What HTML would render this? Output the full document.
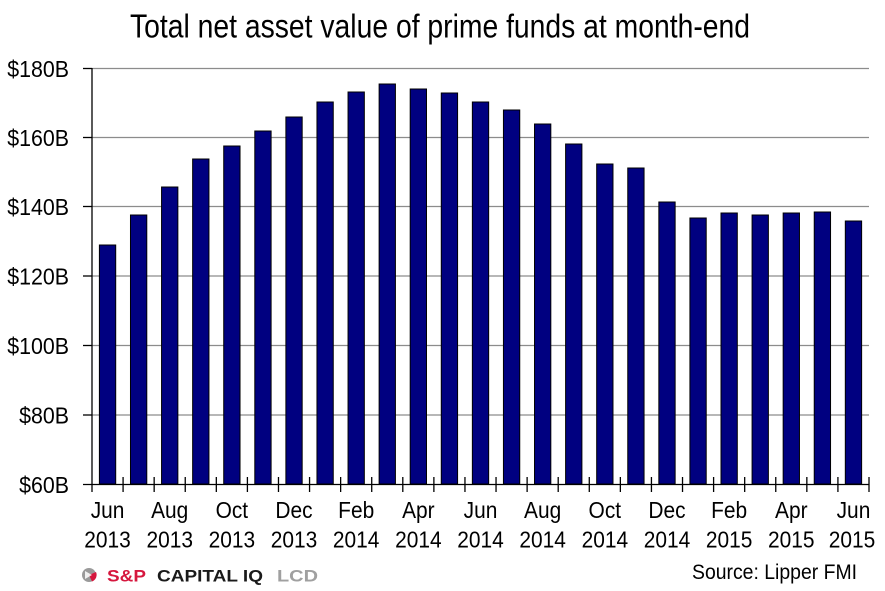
<!DOCTYPE html>
<html><head><meta charset="utf-8"><style>
html,body{margin:0;padding:0;background:#fff;}
svg{display:block;}
text{font-family:"Liberation Sans",Arial,sans-serif;}
</style></head><body>
<svg width="885" height="591" viewBox="0 0 885 591" xmlns="http://www.w3.org/2000/svg">
<rect width="885" height="591" fill="#fff"/>
<text x="130" y="37.5" font-size="33" textLength="620" lengthAdjust="spacingAndGlyphs" fill="#000">Total net asset value of prime funds at month-end</text>
<g stroke="#8c8c8c" stroke-width="1.2">
<line x1="92" y1="68.5" x2="869" y2="68.5"/>
<line x1="92" y1="137.5" x2="869" y2="137.5"/>
<line x1="92" y1="206.5" x2="869" y2="206.5"/>
<line x1="92" y1="276" x2="869" y2="276"/>
<line x1="92" y1="345.5" x2="869" y2="345.5"/>
<line x1="92" y1="415" x2="869" y2="415"/>
</g>
<g fill="#000080" stroke="#000" stroke-width="1">
<rect x="99.4" y="245" width="16.3" height="239"/>
<rect x="130.48" y="215" width="16.3" height="269"/>
<rect x="161.56" y="187" width="16.3" height="297"/>
<rect x="192.64" y="159" width="16.3" height="325"/>
<rect x="223.72" y="146" width="16.3" height="338"/>
<rect x="254.8" y="131" width="16.3" height="353"/>
<rect x="285.88" y="117" width="16.3" height="367"/>
<rect x="316.96" y="102" width="16.3" height="382"/>
<rect x="348.04" y="92" width="16.3" height="392"/>
<rect x="379.12" y="84" width="16.3" height="400"/>
<rect x="410.2" y="89" width="16.3" height="395"/>
<rect x="441.28" y="93" width="16.3" height="391"/>
<rect x="472.36" y="102" width="16.3" height="382"/>
<rect x="503.44" y="110" width="16.3" height="374"/>
<rect x="534.52" y="124" width="16.3" height="360"/>
<rect x="565.6" y="144" width="16.3" height="340"/>
<rect x="596.68" y="164" width="16.3" height="320"/>
<rect x="627.76" y="168" width="16.3" height="316"/>
<rect x="658.84" y="202" width="16.3" height="282"/>
<rect x="689.92" y="218" width="16.3" height="266"/>
<rect x="721.0" y="213" width="16.3" height="271"/>
<rect x="752.08" y="215" width="16.3" height="269"/>
<rect x="783.16" y="213" width="16.3" height="271"/>
<rect x="814.24" y="212" width="16.3" height="272"/>
<rect x="845.32" y="221" width="16.3" height="263"/>
</g>
<g stroke="#000" stroke-width="1.3">
<line x1="92" y1="68" x2="92" y2="492"/>
<line x1="83" y1="484.5" x2="869" y2="484.5"/>
<line x1="83" y1="68.5" x2="92" y2="68.5"/>
<line x1="83" y1="137.5" x2="92" y2="137.5"/>
<line x1="83" y1="206.5" x2="92" y2="206.5"/>
<line x1="83" y1="276" x2="92" y2="276"/>
<line x1="83" y1="345.5" x2="92" y2="345.5"/>
<line x1="83" y1="415" x2="92" y2="415"/>
<line x1="123.08" y1="477" x2="123.08" y2="492"/>
<line x1="154.16" y1="477" x2="154.16" y2="492"/>
<line x1="185.24" y1="477" x2="185.24" y2="492"/>
<line x1="216.32" y1="477" x2="216.32" y2="492"/>
<line x1="247.4" y1="477" x2="247.4" y2="492"/>
<line x1="278.48" y1="477" x2="278.48" y2="492"/>
<line x1="309.56" y1="477" x2="309.56" y2="492"/>
<line x1="340.64" y1="477" x2="340.64" y2="492"/>
<line x1="371.72" y1="477" x2="371.72" y2="492"/>
<line x1="402.8" y1="477" x2="402.8" y2="492"/>
<line x1="433.88" y1="477" x2="433.88" y2="492"/>
<line x1="464.96" y1="477" x2="464.96" y2="492"/>
<line x1="496.04" y1="477" x2="496.04" y2="492"/>
<line x1="527.12" y1="477" x2="527.12" y2="492"/>
<line x1="558.2" y1="477" x2="558.2" y2="492"/>
<line x1="589.28" y1="477" x2="589.28" y2="492"/>
<line x1="620.36" y1="477" x2="620.36" y2="492"/>
<line x1="651.44" y1="477" x2="651.44" y2="492"/>
<line x1="682.52" y1="477" x2="682.52" y2="492"/>
<line x1="713.6" y1="477" x2="713.6" y2="492"/>
<line x1="744.68" y1="477" x2="744.68" y2="492"/>
<line x1="775.76" y1="477" x2="775.76" y2="492"/>
<line x1="806.84" y1="477" x2="806.84" y2="492"/>
<line x1="837.92" y1="477" x2="837.92" y2="492"/>
<line x1="869" y1="477" x2="869" y2="492"/>
</g>
<g font-size="23.5" fill="#000" text-anchor="end">
<text transform="translate(69,77) scale(0.91,1)">$180B</text>
<text transform="translate(69,146) scale(0.91,1)">$160B</text>
<text transform="translate(69,215) scale(0.91,1)">$140B</text>
<text transform="translate(69,284.5) scale(0.91,1)">$120B</text>
<text transform="translate(69,354) scale(0.91,1)">$100B</text>
<text transform="translate(69,423.5) scale(0.91,1)">$80B</text>
<text transform="translate(69,493) scale(0.91,1)">$60B</text>
</g>
<g font-size="23.5" fill="#000" text-anchor="middle">
<text transform="translate(107.54,518) scale(0.89,1)">Jun</text>
<text transform="translate(107.54,547.5) scale(0.89,1)">2013</text>
<text transform="translate(169.7,518) scale(0.89,1)">Aug</text>
<text transform="translate(169.7,547.5) scale(0.89,1)">2013</text>
<text transform="translate(231.86,518) scale(0.89,1)">Oct</text>
<text transform="translate(231.86,547.5) scale(0.89,1)">2013</text>
<text transform="translate(294.02,518) scale(0.89,1)">Dec</text>
<text transform="translate(294.02,547.5) scale(0.89,1)">2013</text>
<text transform="translate(356.18,518) scale(0.89,1)">Feb</text>
<text transform="translate(356.18,547.5) scale(0.89,1)">2014</text>
<text transform="translate(418.34,518) scale(0.89,1)">Apr</text>
<text transform="translate(418.34,547.5) scale(0.89,1)">2014</text>
<text transform="translate(480.5,518) scale(0.89,1)">Jun</text>
<text transform="translate(480.5,547.5) scale(0.89,1)">2014</text>
<text transform="translate(542.66,518) scale(0.89,1)">Aug</text>
<text transform="translate(542.66,547.5) scale(0.89,1)">2014</text>
<text transform="translate(604.82,518) scale(0.89,1)">Oct</text>
<text transform="translate(604.82,547.5) scale(0.89,1)">2014</text>
<text transform="translate(666.98,518) scale(0.89,1)">Dec</text>
<text transform="translate(666.98,547.5) scale(0.89,1)">2014</text>
<text transform="translate(729.14,518) scale(0.89,1)">Feb</text>
<text transform="translate(729.14,547.5) scale(0.89,1)">2015</text>
<text transform="translate(791.3,518) scale(0.89,1)">Apr</text>
<text transform="translate(791.3,547.5) scale(0.89,1)">2015</text>
<text transform="translate(853.46,518) scale(0.89,1)">Jun</text>
<text transform="translate(852,547.5) scale(0.89,1)">2015</text>
</g>
<text x="692" y="579" font-size="21" textLength="165" lengthAdjust="spacingAndGlyphs" fill="#000">Source: Lipper FMI</text>
<g>
<circle cx="89" cy="575" r="7" fill="#9a9a9a"/>
<path d="M89,575 L96,572 A7,7 0 0 1 92,581.5 Z" fill="#d6173e"/>
<path d="M85,571 L92,575 L85,579 Z" fill="#ffffff" opacity="0.85"/>
</g>
<text x="107" y="581.5" font-size="17" font-weight="bold" textLength="39" lengthAdjust="spacingAndGlyphs" fill="#d6173e">S&amp;P</text>
<text x="157" y="581.5" font-size="17" font-weight="bold" textLength="106" lengthAdjust="spacingAndGlyphs" fill="#1a1a1a">CAPITAL IQ</text>
<text x="277" y="581.5" font-size="17" font-weight="bold" textLength="41" lengthAdjust="spacingAndGlyphs" fill="#a0a0a0">LCD</text>
</svg>
</body></html>
